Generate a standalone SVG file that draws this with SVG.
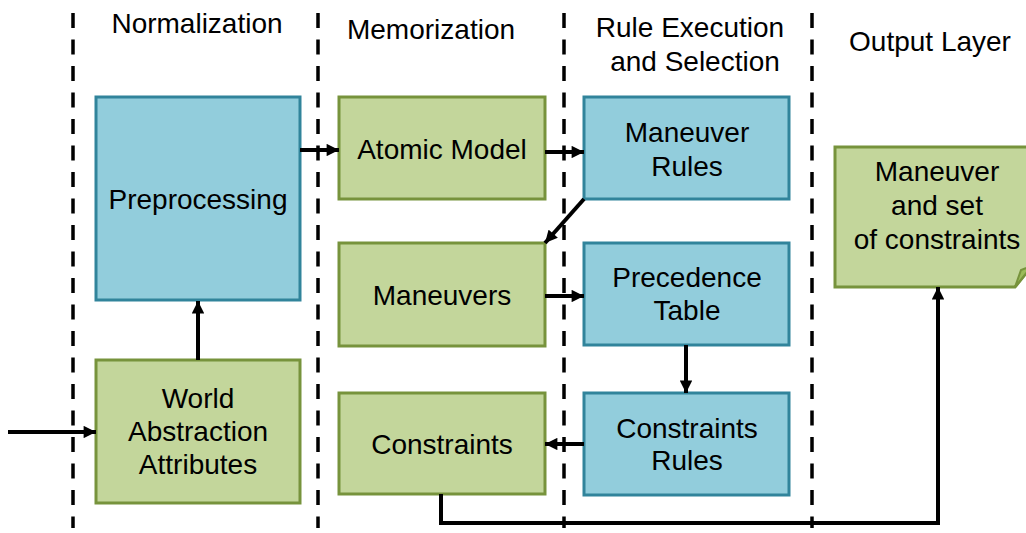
<svg xmlns="http://www.w3.org/2000/svg" width="1026" height="533" viewBox="0 0 1026 533">
  <style>
    text { font-family: "Liberation Sans", Arial, sans-serif; font-size: 28px; fill: #000; text-anchor: middle; }
    .blue { fill: #92CDDC; stroke: #31849B; stroke-width: 3; }
    .green { fill: #C3D69B; stroke: #77933C; stroke-width: 3; }
    .lane { stroke: #000; stroke-width: 3.5; stroke-dasharray: 15 11.5; fill: none; }
    .conn { stroke: #000; stroke-width: 4; fill: none; marker-end: url(#arrow); }
  </style>
  <defs>
    <marker id="arrow" viewBox="0 0 10 10" refX="10" refY="5" markerWidth="3.4" markerHeight="3.1" markerUnits="strokeWidth" orient="auto">
      <path d="M0,0 L10,5 L0,10 Z" fill="#000"/>
    </marker>
  </defs>

  <!-- swim lane separators -->
  <g id="lanes">
    <line class="lane" x1="73" y1="13" x2="73" y2="528"/>
    <line class="lane" x1="318" y1="13" x2="318" y2="528"/>
    <line class="lane" x1="564" y1="13" x2="564" y2="528"/>
    <line class="lane" x1="812" y1="13" x2="812" y2="528"/>
  </g>

  <!-- lane titles -->
  <g id="titles">
    <text x="197" y="33">Normalization</text>
    <text x="431" y="39">Memorization</text>
    <text x="690" y="37">Rule Execution</text>
    <text x="695" y="71">and Selection</text>
    <text x="930" y="51">Output Layer</text>
  </g>

  <g id="preprocessing">
    <rect class="blue" x="96" y="97" width="204" height="203"/>
    <text x="198" y="209">Preprocessing</text>
  </g>
  <g id="world">
    <rect class="green" x="96" y="360" width="204" height="143"/>
    <text x="198" y="408">World</text>
    <text x="198" y="441">Abstraction</text>
    <text x="198" y="474">Attributes</text>
  </g>
  <g id="atomic">
    <rect class="green" x="339" y="97" width="206" height="102"/>
    <text x="442" y="159">Atomic Model</text>
  </g>
  <g id="maneuvers">
    <rect class="green" x="339" y="243" width="206" height="103"/>
    <text x="442" y="305">Maneuvers</text>
  </g>
  <g id="constraints">
    <rect class="green" x="339" y="393" width="206" height="101"/>
    <text x="442" y="454">Constraints</text>
  </g>
  <g id="maneuver-rules">
    <rect class="blue" x="584" y="97" width="205" height="102"/>
    <text x="687" y="142">Maneuver</text>
    <text x="687" y="176">Rules</text>
  </g>
  <g id="precedence">
    <rect class="blue" x="584" y="243" width="205" height="102"/>
    <text x="687" y="287">Precedence</text>
    <text x="687" y="320">Table</text>
  </g>
  <g id="constraints-rules">
    <rect class="blue" x="584" y="393" width="205" height="102"/>
    <text x="687" y="438">Constraints</text>
    <text x="687" y="470">Rules</text>
  </g>
  <g id="output">
    <path class="green" d="M835,147 H1032 V266 L1015,287 H835 Z"/>
    <path d="M1015,287 L1021,270 L1032,266 Z" fill="#9BBB59" stroke="#77933C" stroke-width="2"/>
    <text x="937" y="181">Maneuver</text>
    <text x="937" y="215">and set</text>
    <text x="937" y="249">of constraints</text>
  </g>

  <!-- connectors -->
  <g id="connectors">
    <line class="conn" x1="8" y1="432" x2="96" y2="432"/>
    <line class="conn" x1="198" y1="360" x2="198" y2="301"/>
    <line class="conn" x1="300" y1="150" x2="339" y2="150"/>
    <line class="conn" x1="545" y1="152" x2="584" y2="152"/>
    <line class="conn" x1="584" y1="199" x2="545" y2="243"/>
    <line class="conn" x1="545" y1="296" x2="584" y2="296"/>
    <line class="conn" x1="686" y1="345" x2="686" y2="393"/>
    <line class="conn" x1="584" y1="444" x2="545" y2="444"/>
    <polyline class="conn" points="441,494 441,523 938,523 938,287"/>
  </g>
</svg>
